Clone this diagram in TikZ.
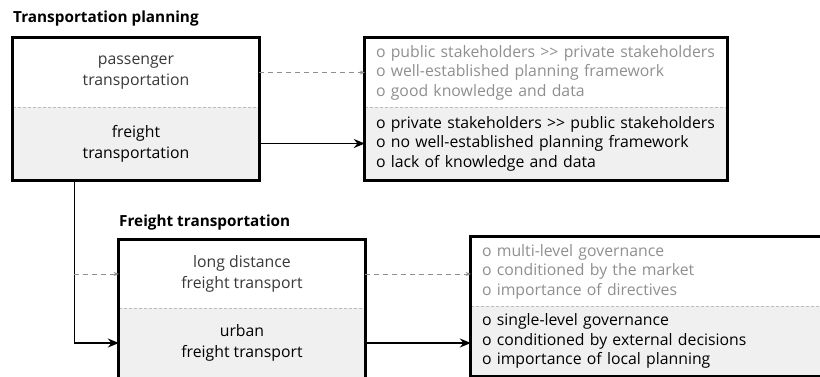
\documentclass[tikz,border=0pt]{standalone}
\usepackage{fontspec}
\setmainfont{Open Sans}
\usetikzlibrary{arrows.meta,calc}
\definecolor{lightfill}{HTML}{F0F0F0}
\definecolor{softtext}{HTML}{383838}
\definecolor{fainttext}{HTML}{8F8F8F}
\definecolor{rulegray}{HTML}{BDBDBD}
\tikzset{
    half/.style={rectangle, minimum width=246pt, align=center, inner sep=0pt,
        font=\fontsize{15.8}{21}\selectfont},
    lowerhalf/.style={half, fill=lightfill},
    info/.style={rectangle, align=left, inner xsep=11pt, inner ysep=0pt,
        font=\fontsize{15.8}{19.5}\selectfont},
    heading/.style={anchor=west, inner sep=0pt, font=\bfseries\fontsize{15.3}{18}\selectfont},
    boxframe/.style={line width=3pt},
    divider/.style={rulegray, dash pattern=on 3pt off 2pt, line width=0.6pt},
    weak/.style={-{Stealth[length=5pt,width=4pt]}, fainttext, dash pattern=on 5pt off 4pt, line width=0.8pt},
    strong/.style={-{Stealth[length=11pt,width=9pt]}, line width=1.6pt},
}

\begin{document}
\begin{tikzpicture}[x=1pt,y=-1pt]
        \useasboundingbox (0,0) rectangle (820,376);
        \clip (0,0) rectangle (820,376);
        % transportation planning
        \node[heading] (plan) at (13,19) {Transportation planning};
        \node[half, minimum height=69pt, text=softtext] (pass) at (136,72.5) {passenger\\transportation};
        \node[lowerhalf, minimum height=73pt] (frgt) at (136,143.5) {freight\\transportation};
        \draw[divider] (pass.south west) -- (pass.south east);
        \draw[boxframe] (pass.north west) rectangle (frgt.south east);
        \node[info, text width=340pt, minimum height=69pt, text=fainttext] (passinfo) at (546,72.5) {o public stakeholders >{}> private stakeholders\\o well-established planning framework\\o good knowledge and data};
        \node[info, text width=340pt, minimum height=73pt, fill=lightfill] (frgtinfo) at (546,143.5) {o private stakeholders >{}> public stakeholders\\o no well-established planning framework\\o lack of knowledge and data};
        \draw[divider] (passinfo.south west) -- (passinfo.south east);
        \draw[boxframe] (passinfo.north west) rectangle (frgtinfo.south east);
        % freight transportation
        \node[heading] (freight) at (119,223) {Freight transportation};
        \node[half, minimum height=68pt, text=softtext] (long) at (242,274) {long distance\\freight transport};
        \node[lowerhalf, minimum height=70pt] (urban) at (242,343) {urban\\freight transport};
        \draw[divider] (long.south west) -- (long.south east);
        \draw[boxframe] (long.north west) rectangle (urban.south east);
        \node[info, text width=360pt, minimum height=69pt, text=fainttext] (longinfo) at (662,271.5) {o multi-level governance\\o conditioned by the market\\o importance of directives};
        \node[info, text width=360pt, minimum height=70pt, fill=lightfill] (urbaninfo) at (662,341) {o single-level governance\\o conditioned by external decisions\\o importance of local planning};
        \draw[divider] (longinfo.south west) -- (longinfo.south east);
        \draw[boxframe] (longinfo.north west) rectangle (urbaninfo.south east);
        % connectors
        \coordinate (branch) at ($(frgt.south west)!0.25!(frgt.south east)$);
        \draw[weak] (pass) -- (passinfo);
        \draw[strong] (frgt) -- (frgtinfo);
        \draw[strong] (branch) |- (urban);
        \draw[weak] (long.west -| branch) -- (long);
        \draw[weak] (long) -- (long -| longinfo.west);
        \draw[strong] (urban) -- (urban -| urbaninfo.west);
    \end{tikzpicture}
\end{document}
